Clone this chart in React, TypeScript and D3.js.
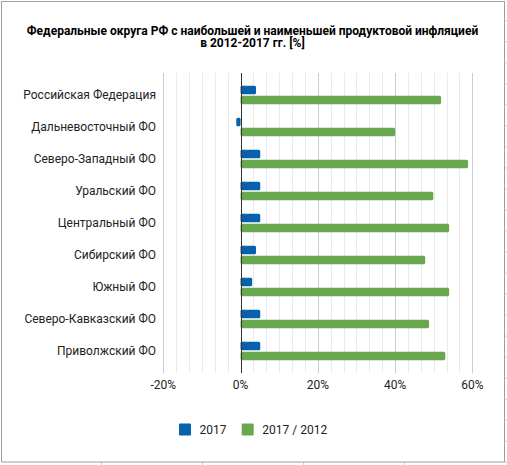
import React from "react";
import * as d3 from "d3";

const categories = [
  "Российская Федерация",
  "Дальневосточный ФО",
  "Северо-Западный ФО",
  "Уральский ФО",
  "Центральный ФО",
  "Сибирский ФО",
  "Южный ФО",
  "Северо-Кавказский ФО",
  "Приволжский ФО",
];
const values2017 = [4.0, -1.1, 5.1, 5.1, 5.1, 4.0, 3.0, 5.1, 5.1];
const values2017vs2012 = [51.9, 40.0, 58.9, 49.9, 54.0, 47.8, 54.0, 48.8, 53.0];
const seriesNames = ["2017", "2017 / 2012"];
const seriesColors = ["#0562ab", "#6aa84f"];
const majorTicks = [-20, 0, 20, 40, 60];
const titleLines = [
  "Федеральные округа РФ с наибольшей и наименьшей продуктовой инфляцией",
  "в 2012-2017 гг. [%]",
];

const W = 507;
const H = 465;
const FONT = "Roboto, 'Noto Sans', sans-serif";

export default function App() {
  const x = d3.scaleLinear().domain([-20, 60]).range([163.3, 472.3]);
  const y = d3.scaleBand<string>().domain(categories).range([79, 367]).padding(0);
  const minorTicks = d3.range(-20, 60.001, 20 / 6);
  const barH = 8.5;
  const gap = 1.5;
  const series = [values2017, values2017vs2012];

  const rightTicks = d3.range(0, 22).map((k) => 20.7 + 21.03 * k);
  const bottomTicks = [101, 202, 303, 404];

  return (
    <svg
      width={W}
      height={H}
      style={{ position: "absolute", left: 0, top: 0, display: "block" }}
      fontFamily={FONT}
    >
      <rect x={0} y={0} width={W} height={H} fill="#fff" />
      {/* spreadsheet edge marks */}
      {rightTicks.map((t, i) => (
        <line key={"rt" + i} x1={505} x2={507} y1={t} y2={t} stroke="#d0d0d0" />
      ))}
      {bottomTicks.map((t, i) => (
        <line key={"bt" + i} x1={t + 0.5} x2={t + 0.5} y1={462} y2={465} stroke="#d0d0d0" />
      ))}
      <rect x={1.5} y={1.5} width={503} height={460.5} fill="#fff" stroke="#9e9e9e" strokeWidth={1} />

      {/* title */}
      {titleLines.map((t, i) => (
        <text
          key={"t" + i}
          x={252.5}
          y={35 + i * 12}
          textAnchor="middle"
          fontSize={12}
          fontWeight="bold"
          fill="#000"
        >
          {t}
        </text>
      ))}

      {/* gridlines */}
      {minorTicks.map((t, i) => {
        const isMajor = Math.abs(t / 20 - Math.round(t / 20)) < 1e-6;
        const px = Math.round(x(t)) + 0.5;
        return (
          <line
            key={"g" + i}
            x1={px}
            x2={px}
            y1={73}
            y2={373}
            stroke={isMajor ? "#cccccc" : "#ebebeb"}
            strokeWidth={1}
          />
        );
      })}

      {/* bars */}
      {categories.map((c, i) => {
        const cy = (y(c) as number) + y.bandwidth() / 2;
        return series.map((vals, s) => {
          const v = vals[i];
          const x0 = x(Math.min(0, v));
          const x1 = x(Math.max(0, v));
          const top = s === 0 ? cy - gap / 2 - barH : cy + gap / 2;
          return (
            <rect
              key={c + s}
              x={x0}
              y={top}
              width={x1 - x0}
              height={barH}
              rx={1.5}
              fill={seriesColors[s]}
            />
          );
        });
      })}

      {/* zero axis */}
      <line
        x1={Math.round(x(0)) + 0.5}
        x2={Math.round(x(0)) + 0.5}
        y1={73}
        y2={373}
        stroke="#333"
        strokeWidth={1}
      />

      {/* category labels */}
      {categories.map((c) => (
        <text
          key={"l" + c}
          x={156}
          y={(y(c) as number) + y.bandwidth() / 2 + 4}
          textAnchor="end"
          fontSize={12}
          fill="#222"
        >
          {c}
        </text>
      ))}

      {/* x tick labels */}
      {majorTicks.map((t) => (
        <text key={"x" + t} x={x(t)} y={388.5} textAnchor="middle" fontSize={12} fill="#222">
          {t + "%"}
        </text>
      ))}

      {/* legend */}
      <g>
        <rect x={179} y={423.5} width={12} height={12} rx={1} fill={seriesColors[0]} />
        <text x={199.5} y={433.5} fontSize={12} fill="#222">
          {seriesNames[0]}
        </text>
        <rect x={241.7} y={423.5} width={12} height={12} rx={1} fill={seriesColors[1]} />
        <text x={262.3} y={433.5} fontSize={12} fill="#222">
          {seriesNames[1]}
        </text>
      </g>
    </svg>
  );
}
